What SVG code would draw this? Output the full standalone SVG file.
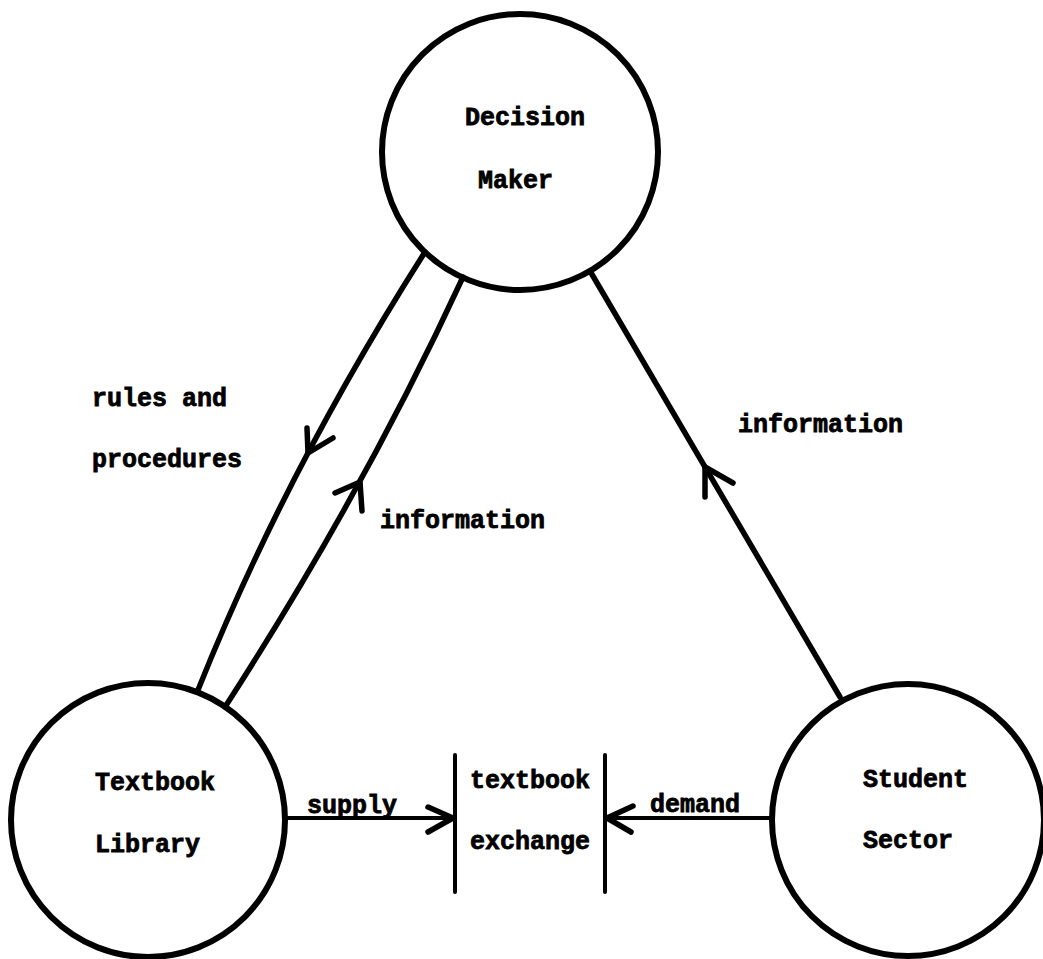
<svg xmlns="http://www.w3.org/2000/svg" width="1043" height="959" viewBox="0 0 1043 959">
<style>
.node{fill:none;stroke:#000;stroke-width:6}
.lbl{font-family:"Liberation Mono","DejaVu Sans Mono",monospace;font-weight:bold;font-size:25px;fill:#000;stroke:#000;stroke-width:0.8}
.con{fill:none;stroke:#000;stroke-width:5.5;stroke-linecap:round;stroke-linejoin:round}
.thin{stroke-width:4}
</style>
<rect width="1043" height="959" fill="#fff"/>
<g id="decision-maker">
<circle class="node" cx="520" cy="152" r="138"/>
<text class="lbl" x="465" y="125">Decision</text>
<text class="lbl" x="478" y="188">Maker</text>
</g>
<g id="textbook-library">
<circle class="node" cx="148" cy="820" r="137"/>
<text class="lbl" x="95" y="790">Textbook</text>
<text class="lbl" x="95" y="852">Library</text>
</g>
<g id="student-sector">
<circle class="node" cx="908" cy="820" r="136"/>
<text class="lbl" x="863" y="787">Student</text>
<text class="lbl" x="863" y="848">Sector</text>
</g>
<g id="textbook-exchange">
<line class="con thin" x1="455" y1="755" x2="455" y2="892"/>
<line class="con thin" x1="605" y1="755" x2="605" y2="892"/>
<text class="lbl" x="470" y="788">textbook</text>
<text class="lbl" x="470" y="849">exchange</text>
</g>
<g id="connectors">
<path class="con" d="M425,252 Q285.5,471 198,690"/>
<path class="con" d="M307,428 L308,453 L333,438"/>
<path class="con" d="M225,707 Q364,492 463,277"/>
<path class="con" d="M335,493 L360,482 L362,511"/>
<path class="con" d="M840,697 L590,271"/>
<path class="con" d="M705,497 L705,467 L733,483"/>
<path class="con thin" d="M285,818 L453,818"/>
<path class="con" d="M428,807 L453,818 L428,832"/>
<path class="con thin" d="M773,818 L607,818"/>
<path class="con" d="M633,806 L607,818 L631,832"/>
<text class="lbl" x="92" y="406">rules and</text>
<text class="lbl" x="92" y="467">procedures</text>
<text class="lbl" x="380" y="528">information</text>
<text class="lbl" x="738" y="432">information</text>
<text class="lbl" x="307" y="813">supply</text>
<text class="lbl" x="650" y="812">demand</text>
</g>
</svg>
